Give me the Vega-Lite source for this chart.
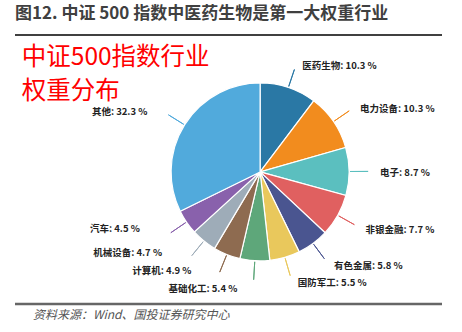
{
  "$schema": "https://vega.github.io/schema/vega-lite/v6.json",
  "autosize": {"type": "none"},
  "width": 427,
  "height": 269,
  "padding": {"left": 15, "top": 35, "right": 20, "bottom": 28},
  "background": "white",
  "config": {"view": {"stroke": null}},
  "title": {
    "text": "图12. 中证 500 指数中医药生物是第一大权重行业",
    "anchor": "start",
    "frame": "group",
    "font": "Noto Sans CJK SC",
    "fontSize": 17,
    "fontWeight": "bold",
    "color": "#404040",
    "offset": 11
  },
  "data": {
    "values": [
      {"industry": "医药生物", "value": 10.3, "label": "医药生物: 10.3 %"},
      {"industry": "电力设备", "value": 10.3, "label": "电力设备: 10.3 %"},
      {"industry": "电子", "value": 8.7, "label": "电子: 8.7 %"},
      {"industry": "非银金融", "value": 7.7, "label": "非银金融: 7.7 %"},
      {"industry": "有色金属", "value": 5.8, "label": "有色金属: 5.8 %"},
      {"industry": "国防军工", "value": 5.5, "label": "国防军工: 5.5 %"},
      {"industry": "基础化工", "value": 5.4, "label": "基础化工: 5.4 %"},
      {"industry": "计算机", "value": 4.9, "label": "计算机: 4.9 %"},
      {"industry": "机械设备", "value": 4.7, "label": "机械设备: 4.7 %"},
      {"industry": "汽车", "value": 4.5, "label": "汽车: 4.5 %"},
      {"industry": "其他", "value": 32.3, "label": "其他: 32.3 %"}
    ]
  },
  "transform": [{"stack": "value", "groupby": [], "as": ["v0", "v1"]}],
  "layer": [
    {
      "data": {"values": [{}]},
      "mark": {"type": "rule", "color": "#000000", "strokeWidth": 1.5},
      "encoding": {"y": {"datum": 1, "type": "quantitative", "scale": {"domain": [0, 1], "nice": false, "zero": false}, "axis": null}}
    },
    {
      "data": {"values": [{}]},
      "mark": {"type": "rule", "color": "#666666", "strokeWidth": 2.5},
      "encoding": {"y": {"datum": 0, "type": "quantitative", "scale": {"domain": [0, 1], "nice": false, "zero": false}, "axis": null}}
    },
    {
      "data": {"values": [{}]},
      "mark": {"type": "text", "text": "资料来源：Wind、国投证券研究中心", "font": "Noto Sans CJK SC", "fontSize": 12, "fontStyle": "italic", "color": "#555555", "align": "left", "baseline": "middle"},
      "encoding": {
        "x": {"datum": 0.042, "type": "quantitative", "scale": {"domain": [0, 1], "nice": false, "zero": false}, "axis": null},
        "y": {"datum": -0.041, "type": "quantitative", "scale": {"domain": [0, 1], "nice": false, "zero": false}, "axis": null}
      }
    },
    {
      "data": {"values": [{}]},
      "mark": {"type": "text", "text": "中证500指数行业", "font": "Noto Sans CJK SC", "fontSize": 24.5, "color": "#ff0000", "align": "left", "baseline": "middle"},
      "encoding": {
        "x": {"datum": 0.016, "type": "quantitative", "scale": {"domain": [0, 1], "nice": false, "zero": false}, "axis": null},
        "y": {"datum": 0.9145, "type": "quantitative", "scale": {"domain": [0, 1], "nice": false, "zero": false}, "axis": null}
      }
    },
    {
      "data": {"values": [{}]},
      "mark": {"type": "text", "text": "权重分布", "font": "Noto Sans CJK SC", "fontSize": 24.5, "color": "#ff0000", "align": "left", "baseline": "middle"},
      "encoding": {
        "x": {"datum": 0.016, "type": "quantitative", "scale": {"domain": [0, 1], "nice": false, "zero": false}, "axis": null},
        "y": {"datum": 0.788, "type": "quantitative", "scale": {"domain": [0, 1], "nice": false, "zero": false}, "axis": null}
      }
    },
    {
      "mark": {"type": "arc", "outerRadius": 108, "innerRadius": 90, "padAngle": 3, "filled": false, "strokeWidth": 1},
      "encoding": {
        "x": {"datum": 0.574, "type": "quantitative", "scale": {"domain": [0, 1], "nice": false, "zero": false}, "axis": null},
        "y": {"datum": 0.491, "type": "quantitative", "scale": {"domain": [0, 1], "nice": false, "zero": false}, "axis": null},
        "theta": {"field": "v0", "type": "quantitative", "scale": {"domain": [0, 100.1]}},
        "theta2": {"field": "v1"},
        "color": {"field": "industry", "type": "nominal", "legend": null,
          "scale": {"domain": ["医药生物", "电力设备", "电子", "非银金融", "有色金属", "国防军工", "基础化工", "计算机", "机械设备", "汽车", "其他"],
                    "range": ["#2a78a5", "#f28c1e", "#5bbfbf", "#e06060", "#4a5590", "#e9c85c", "#5ea77a", "#8e6b50", "#9eacb8", "#8961ac", "#51aadc"]}}
      }
    },
    {
      "mark": {"type": "arc", "outerRadius": 89, "stroke": "#ffffff", "strokeWidth": 1.2},
      "encoding": {
        "x": {"datum": 0.574, "type": "quantitative", "scale": {"domain": [0, 1], "nice": false, "zero": false}, "axis": null},
        "y": {"datum": 0.491, "type": "quantitative", "scale": {"domain": [0, 1], "nice": false, "zero": false}, "axis": null},
        "theta": {"field": "v0", "type": "quantitative", "scale": {"domain": [0, 100.1]}},
        "theta2": {"field": "v1"},
        "color": {"field": "industry", "type": "nominal", "legend": null}
      }
    },
    {
      "mark": {"type": "text", "radius": 114, "font": "Noto Sans CJK SC", "fontSize": 9.5, "fontWeight": "bold", "color": "#222222", "baseline": "middle",
               "align": {"expr": "datum.v0 + datum.v1 < 100 ? 'left' : 'right'"},
               "dx": {"expr": "datum.v0 + datum.v1 < 100 ? 6 : (datum.v0 + datum.v1 > 106 && datum.v0 + datum.v1 < 140 ? -26 : -16)"},
               "dy": {"expr": "datum.v0 + datum.v1 < 100 ? 2 : (datum.v0 + datum.v1 > 106 && datum.v0 + datum.v1 < 140 ? -7 : (datum.v0 + datum.v1 < 106 ? 3 : 0))"}},
      "encoding": {
        "x": {"datum": 0.574, "type": "quantitative", "scale": {"domain": [0, 1], "nice": false, "zero": false}, "axis": null},
        "y": {"datum": 0.491, "type": "quantitative", "scale": {"domain": [0, 1], "nice": false, "zero": false}, "axis": null},
        "theta": {"field": "value", "type": "quantitative", "stack": true, "scale": {"domain": [0, 100.1]}},
        "order": {"field": "v0", "type": "quantitative", "sort": "ascending"},
        "text": {"field": "label"}
      }
    }
  ]
}
